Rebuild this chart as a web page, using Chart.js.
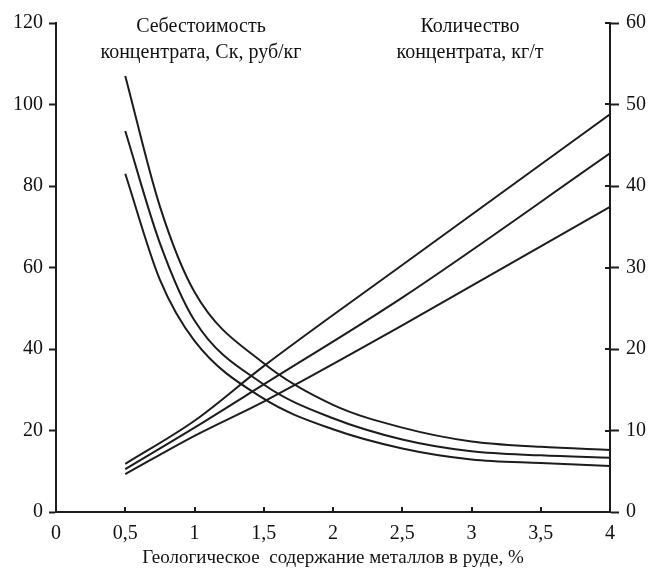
<!DOCTYPE html>
<html>
<head>
<meta charset="utf-8">
<script src="https://cdn.jsdelivr.net/npm/chart.js@4/dist/chart.umd.min.js"></script>
<style>
  html, body { margin: 0; padding: 0; background: #fff; }
  #wrap { width: 649px; height: 569px; }
</style>
</head>
<body>
<div id="wrap"><canvas id="chart" width="649" height="569"></canvas></div>
<script>
// ore grade, % (x axis)
var gradeCost = [0.5, 0.75, 1, 1.5, 2, 2.5, 3, 3.5, 4];
var gradeYield = [0.5, 1, 1.5, 2.5, 4];

// concentrate cost, rub/kg (left axis)
var costHigh = [107, 75, 54, 36.5, 26.3, 20.7, 17.3, 16, 15.2];
var costMid = [93.5, 66, 47, 31.3, 23, 17.8, 14.9, 13.9, 13.3];
var costLow = [83, 57, 42, 27.8, 20.3, 15.6, 12.9, 12, 11.3];

// concentrate quantity, kg/t (right axis)
var yieldHigh = [5.9, 11.2, 17.9, 30.3, 48.8];
var yieldMid = [5.25, 10.35, 15.65, 26.3, 44];
var yieldLow = [4.65, 9.35, 13.55, 22.9, 37.45];

var gradeTicks = [0, 0.5, 1, 1.5, 2, 2.5, 3, 3.5, 4];
var costTicks = [0, 20, 40, 60, 80, 100, 120];
var yieldTicks = [0, 10, 20, 30, 40, 50, 60];

var costTitle = ["Себестоимость", "концентрата, Ск, руб/кг"];
var yieldTitle = ["Количество", "концентрата, кг/т"];
var gradeTitle = "Геологическое  содержание металлов в руде, %";

var serif = "'Liberation Serif', 'DejaVu Serif', serif";
var ink = "#1c1c1c";

var toPoints = function(xs, ys) {
  return ys.map(function(y, i) { return { x: xs[i], y: y }; });
};

var curve = function(xs, ys, axis) {
  return {
    data: toPoints(xs, ys),
    yAxisID: axis,
    borderColor: ink,
    borderWidth: 2,
    pointRadius: 0,
    fill: false,
    cubicInterpolationMode: "monotone"
  };
};

var setTicks = function(values) {
  return function(scale) {
    scale.ticks = values.map(function(v) { return { value: v }; });
  };
};

// inner tick marks and the two captions inside the plot
var extras = {
  id: "extras",
  afterDraw: function(chart) {
    var ctx = chart.ctx;
    var area = chart.chartArea;
    var x = chart.scales.x;
    var yr = chart.scales.yr;
    ctx.save();
    ctx.strokeStyle = ink;
    ctx.lineWidth = 2;
    gradeTicks.forEach(function(v) {
      var px = Math.round(x.getPixelForValue(v));
      ctx.beginPath();
      ctx.moveTo(px, area.bottom);
      ctx.lineTo(px, area.bottom - 5);
      ctx.stroke();
    });
    yieldTicks.forEach(function(v) {
      var py = Math.round(yr.getPixelForValue(v));
      ctx.beginPath();
      ctx.moveTo(area.right - 5, py);
      ctx.lineTo(area.right, py);
      ctx.stroke();
    });
    ctx.fillStyle = "#111";
    ctx.font = "20px " + serif;
    ctx.textAlign = "center";
    ctx.textBaseline = "middle";
    ctx.fillText(costTitle[0], area.left + 145, 27);
    ctx.fillText(costTitle[1], area.left + 145, 53);
    ctx.fillText(yieldTitle[0], area.left + 414, 27);
    ctx.fillText(yieldTitle[1], area.left + 414, 53);
    ctx.restore();
  }
};

var datasets = [
  curve(gradeCost, costHigh, "y"),
  curve(gradeCost, costMid, "y"),
  curve(gradeCost, costLow, "y"),
  curve(gradeYield, yieldHigh, "yr"),
  curve(gradeYield, yieldMid, "yr"),
  curve(gradeYield, yieldLow, "yr")
];

new Chart(document.getElementById("chart").getContext("2d"), {
  type: "line",
  data: { datasets: datasets },
  plugins: [extras],
  options: {
    responsive: false,
    animation: false,
    layout: { padding: { top: 23, left: 0, right: 0, bottom: 0 } },
    plugins: { legend: { display: false }, tooltip: { enabled: false } },
    scales: {
      x: {
        type: "linear",
        min: 0,
        max: 4,
        afterBuildTicks: setTicks(gradeTicks),
        afterFit: function(s) { s.height = 57; },
        border: { display: true, color: ink, width: 2 },
        grid: { drawOnChartArea: false, drawTicks: false },
        ticks: {
          padding: 10,
          color: "#111",
          font: { family: serif, size: 20 },
          maxRotation: 0,
          callback: function(v) { return String(v).replace(".", ","); }
        },
        title: {
          display: true,
          text: gradeTitle,
          color: "#111",
          font: { family: serif, size: 19 },
          padding: { top: 0, bottom: 0 }
        }
      },
      y: {
        position: "left",
        min: 0,
        max: 120,
        afterBuildTicks: setTicks(costTicks),
        afterFit: function(s) { s.width = 56; },
        border: { display: true, color: ink, width: 2 },
        grid: { drawOnChartArea: false, drawTicks: true, tickLength: 7, tickWidth: 2, tickColor: ink },
        ticks: { padding: 6, color: "#111", font: { family: serif, size: 20 } }
      },
      yr: {
        position: "right",
        min: 0,
        max: 60,
        afterBuildTicks: setTicks(yieldTicks),
        afterFit: function(s) { s.width = 39; },
        border: { display: true, color: ink, width: 2 },
        grid: { drawOnChartArea: false, drawTicks: true, tickLength: 9, tickWidth: 2, tickColor: ink },
        ticks: { padding: 7, color: "#111", font: { family: serif, size: 20 } }
      }
    }
  }
});
</script>
</body>
</html>
